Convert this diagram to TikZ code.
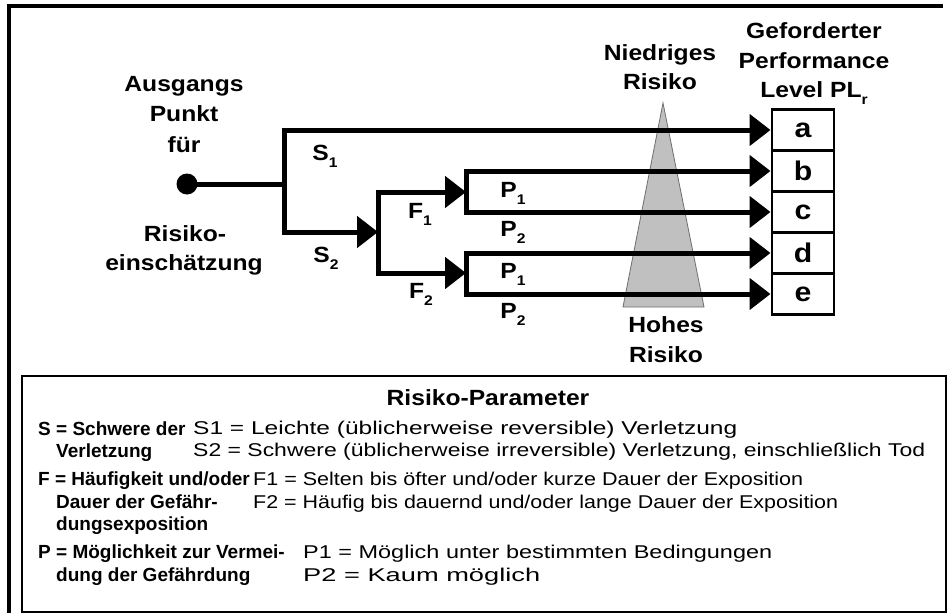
\documentclass[tikz,border=0pt]{standalone}
\usepackage{graphicx}
\usepackage{fontspec}
\setmainfont{Liberation Sans}
\newfontfamily\lblfont[FakeStretch=1.12]{Liberation Sans}
\usetikzlibrary{arrows.meta}
\newcommand{\lowidx}[1]{\raisebox{-0.32em}{\fontsize{14}{14}\selectfont #1}}
% set a legend line to a given width, keeping its height
\newcommand{\fitline}[2]{\resizebox{#1pt}{\height}{#2}}
\definecolor{trigray}{RGB}{192,192,192}
\definecolor{triedge}{RGB}{110,110,110}
\begin{document}
\begin{tikzpicture}[x=1pt,y=-1pt,
  lbl/.style={font=\lblfont\bfseries\fontsize{22}{26}\selectfont, inner sep=0pt, anchor=base},
  legb/.style={font=\bfseries\fontsize{19}{22}\selectfont, inner sep=0pt, anchor=base west},
  legr/.style={font=\fontsize{18.5}{22}\selectfont, inner sep=0pt, anchor=base west},
  wire/.style={line width=5pt, black},
  tipped/.style={-{Triangle[length=21pt,width=31pt]}, shorten >=1.5pt},
  plbox/.style={draw, line width=2.5pt, minimum width=62pt, minimum height=41pt,
    outer sep=0pt, inner sep=0pt, font=\lblfont\bfseries\fontsize{27}{30}\selectfont},
  frame/.style={line width=3.5pt, black}]
\useasboundingbox (0,0) rectangle (947,613);
\fill[white] (0,0) rectangle (947,613);

% outer frame and legend panel
\draw[frame] (9,613) -- (9,6) -- (943,6);
\draw[line width=2.5pt] (22,376) rectangle (946,612);

% risk wedge (low at top, high at bottom)
\fill[trigray, draw=triedge, line width=0.8pt] (663,103) -- (704,307) -- (623,307) -- cycle;

% performance level boxes
\node[plbox] (a) at (803,130) {a};
\node[plbox] (b) at (803,171) {b};
\node[plbox] (c) at (803,212) {c};
\node[plbox] (d) at (803,253) {d};
\node[plbox] (e) at (803,294) {e};

% decision tree
\node[circle, fill=black, inner sep=0pt, minimum size=21pt] (start) at (187,184) {};
\coordinate (j1) at (284,184);
\coordinate (fj) at (378,232);
\coordinate (p1j) at (466,192);
\coordinate (p2j) at (466,273);

\draw[wire] (start.center) -- (j1);
\draw[wire,tipped] (j1) |- (a.west);
\draw[wire,tipped,shorten >=0pt] (j1) |- (fj);
\draw[wire,tipped,shorten >=0pt] (fj) |- (p1j);
\draw[wire,tipped,shorten >=0pt] (fj) |- (p2j);
\draw[wire,tipped] (p1j) |- (b.west);
\draw[wire,tipped] (p1j) |- (c.west);
\draw[wire,tipped] (p2j) |- (d.west);
\draw[wire,tipped] (p2j) |- (e.west);

% branch labels
\node[lbl] (ls1) at (325,160) {S\lowidx{1}};
\node[lbl] (ls2) at (326,262) {S\lowidx{2}};
\node[lbl] (lf1) at (420,218) {F\lowidx{1}};
\node[lbl] (lf2) at (421,298) {F\lowidx{2}};
\node[lbl] (lp1a) at (513,197) {P\lowidx{1}};
\node[lbl] (lp2a) at (513,236) {P\lowidx{2}};
\node[lbl] (lp1b) at (513,278) {P\lowidx{1}};
\node[lbl] (lp2b) at (513,318) {P\lowidx{2}};

% headings
\node[lbl] (st1) at (184,91) {Ausgangs};
\node[lbl] (st2) at (184,121) {Punkt};
\node[lbl] (st3) at (184,152) {für};
\node[lbl] (st4) at (185,241) {Risiko-};
\node[lbl] (st5) at (184,270) {einschätzung};

\node[lbl] (lo1) at (660,60) {Niedriges};
\node[lbl] (lo2) at (660,89) {Risiko};
\node[lbl] (hi1) at (666,332) {Hohes};
\node[lbl] (hi2) at (666,362) {Risiko};

\node[lbl] (pl1) at (814,38) {Geforderter};
\node[lbl] (pl2) at (814,68) {Performance};
\node[lbl] (pl3) at (814,97) {Level PL\lowidx{r}};

% legend
\node[lbl] (title) at (488,405) {Risiko-Parameter};

\node[legb] (ks1) at (38,435) {S = Schwere der};
\node[legb] (ks2) at (56,457) {Verletzung};
\node[legb] (kf1) at (38,485) {F = Häufigkeit und/oder};
\node[legb] (kf2) at (56,508) {Dauer der Gefähr-};
\node[legb] (kf3) at (56,530) {dungsexposition};
\node[legb] (kp1) at (38,558) {P = Möglichkeit zur Vermei-};
\node[legb] (kp2) at (56,581) {dung der Gefährdung};

\node[legr] (vs1) at (193,434) {\fitline{544}{S1 = Leichte (üblicherweise reversible) Verletzung}};
\node[legr] (vs2) at (193,456) {\fitline{732}{S2 = Schwere (üblicherweise irreversible) Verletzung, einschließlich Tod}};
\node[legr] (vf1) at (253,485) {\fitline{550}{F1 = Selten bis öfter und/oder kurze Dauer der Exposition}};
\node[legr] (vf2) at (253,508) {\fitline{585}{F2 = Häufig bis dauernd und/oder lange Dauer der Exposition}};
\node[legr] (vp1) at (303,558) {\fitline{469}{P1 = Möglich unter bestimmten Bedingungen}};
\node[legr] (vp2) at (303,581) {\fitline{237}{P2 = Kaum möglich}};
\end{tikzpicture}
\end{document}
